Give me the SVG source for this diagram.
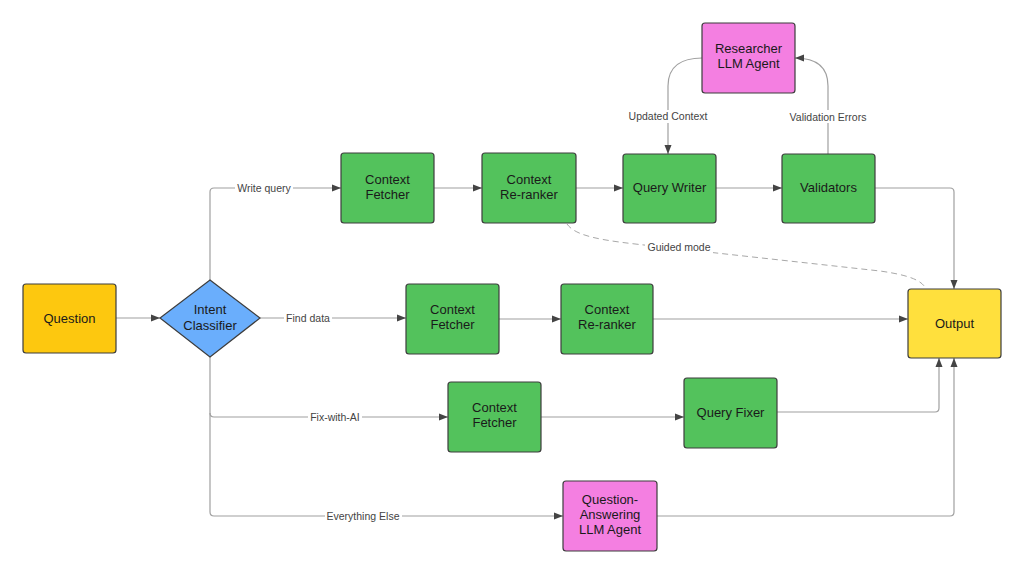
<svg xmlns="http://www.w3.org/2000/svg" width="1024" height="574" viewBox="0 0 1024 574">
<style>
.n{stroke:#3d3d3d;stroke-width:1.2}
.g{fill:#53c25c}
.p{fill:#f47fe1}
.t{font-family:"Liberation Sans",Arial,sans-serif;font-size:13px;fill:#1a1a1a;text-anchor:middle}
.c{fill:none;stroke:#a0a0a0;stroke-width:1.2}
.d{fill:none;stroke:#a8a8a8;stroke-width:1;stroke-dasharray:6 4}
.l{font-family:"Liberation Sans",Arial,sans-serif;font-size:10.5px;fill:#444;text-anchor:middle}
.lb{fill:#fff}
</style>
<defs>
<marker id="a" markerUnits="userSpaceOnUse" markerWidth="10" markerHeight="8" refX="9" refY="4" orient="auto">
<path d="M0,0.5 L9,4 L0,7.5 Z" fill="#444"/>
</marker>
</defs>
<rect width="1024" height="574" fill="#fff"/>
<g id="connectors">
<path class="c" d="M116,318 L160,318" marker-end="url(#a)"/>
<path class="c" d="M210,280 L210,192 Q210,188 214,188 L341,188" marker-end="url(#a)"/>
<path class="c" d="M260,318 L406,318" marker-end="url(#a)"/>
<path class="c" d="M210,357 L210,413 Q210,417 214,417 L448,417" marker-end="url(#a)"/>
<path class="c" d="M210,413 L210,512 Q210,516 214,516 L563,516" marker-end="url(#a)"/>
<path class="c" d="M434,188 L482,188" marker-end="url(#a)"/>
<path class="c" d="M576,188 L623,188" marker-end="url(#a)"/>
<path class="c" d="M716,188 L782,188" marker-end="url(#a)"/>
<path class="c" d="M875,188 L950,188 Q954,188 954,192 L954,289" marker-end="url(#a)"/>
<path class="c" d="M702,58 C682,58 668,66 668,86 L668,154" marker-end="url(#a)"/>
<path class="c" d="M828,154 L828,86 C828,66 816,58 795,58" marker-end="url(#a)"/>
<path class="c" d="M499,319 L561,319" marker-end="url(#a)"/>
<path class="c" d="M653,319 L908,319" marker-end="url(#a)"/>
<path class="c" d="M541,417 L684,417" marker-end="url(#a)"/>
<path class="c" d="M777,412 L935,412 Q939,412 939,408 L939,358" marker-end="url(#a)"/>
<path class="c" d="M657,516 L950,516 Q954,516 954,512 L954,358" marker-end="url(#a)"/>
<path class="d" d="M567,224 C578,240 620,242 680,249 L880,271 C908,275 922,280 926,289"/>
<rect class="lb" x="235" y="181" width="58" height="13"/>
<text class="l" x="264" y="191.5">Write query</text>
<rect class="lb" x="284" y="311" width="48" height="13"/>
<text class="l" x="308" y="321.5">Find data</text>
<rect class="lb" x="308" y="410" width="54" height="13"/>
<text class="l" x="335" y="420.5">Fix-with-AI</text>
<rect class="lb" x="325" y="509" width="77" height="13"/>
<text class="l" x="363" y="519.5">Everything Else</text>
<rect class="lb" x="626" y="110" width="84" height="13"/>
<text class="l" x="668" y="120">Updated Context</text>
<rect class="lb" x="785" y="110" width="86" height="13"/>
<text class="l" x="828" y="120.5">Validation Errors</text>
<rect class="lb" x="645" y="241" width="68" height="13"/>
<text class="l" x="679" y="251">Guided mode</text>
</g>
<g id="question"><rect class="n" x="23" y="284" width="93" height="69" rx="3" fill="#fdc80f"/><text class="t" x="69.5" y="323">Question</text></g>
<g id="intent"><path class="n" d="M210,280 L260,318 L210,357 L160,318 Z" fill="#6aaefc"/><text class="t" x="210" y="314">Intent</text><text class="t" x="210" y="330">Classifier</text></g>
<g id="fetcher1"><rect class="n g" x="341" y="153" width="93" height="70" rx="3"/><text class="t" x="387.5" y="184">Context</text><text class="t" x="387.5" y="199">Fetcher</text></g>
<g id="reranker1"><rect class="n g" x="482" y="153" width="94" height="70" rx="3"/><text class="t" x="529" y="184">Context</text><text class="t" x="529" y="199">Re-ranker</text></g>
<g id="querywriter"><rect class="n g" x="623" y="154" width="93" height="69" rx="3"/><text class="t" x="669.5" y="192">Query Writer</text></g>
<g id="validators"><rect class="n g" x="782" y="154" width="93" height="69" rx="3"/><text class="t" x="828.5" y="192">Validators</text></g>
<g id="researcher"><rect class="n p" x="702" y="23" width="93" height="70" rx="3"/><text class="t" x="748.5" y="53">Researcher</text><text class="t" x="748.5" y="68">LLM Agent</text></g>
<g id="fetcher2"><rect class="n g" x="406" y="284" width="93" height="70" rx="3"/><text class="t" x="452.5" y="314">Context</text><text class="t" x="452.5" y="329">Fetcher</text></g>
<g id="reranker2"><rect class="n g" x="561" y="284" width="92" height="70" rx="3"/><text class="t" x="607" y="314">Context</text><text class="t" x="607" y="329">Re-ranker</text></g>
<g id="output"><rect class="n" x="908" y="289" width="93" height="69" rx="3" fill="#ffe03d"/><text class="t" x="954.5" y="328">Output</text></g>
<g id="fetcher3"><rect class="n g" x="448" y="382" width="93" height="70" rx="3"/><text class="t" x="494.5" y="412">Context</text><text class="t" x="494.5" y="427">Fetcher</text></g>
<g id="queryfixer"><rect class="n g" x="684" y="378" width="93" height="70" rx="3"/><text class="t" x="730.5" y="417">Query Fixer</text></g>
<g id="qa"><rect class="n p" x="563" y="481" width="94" height="70" rx="3"/><text class="t" x="610" y="504">Question-</text><text class="t" x="610" y="519">Answering</text><text class="t" x="610" y="534">LLM Agent</text></g>
</svg>
